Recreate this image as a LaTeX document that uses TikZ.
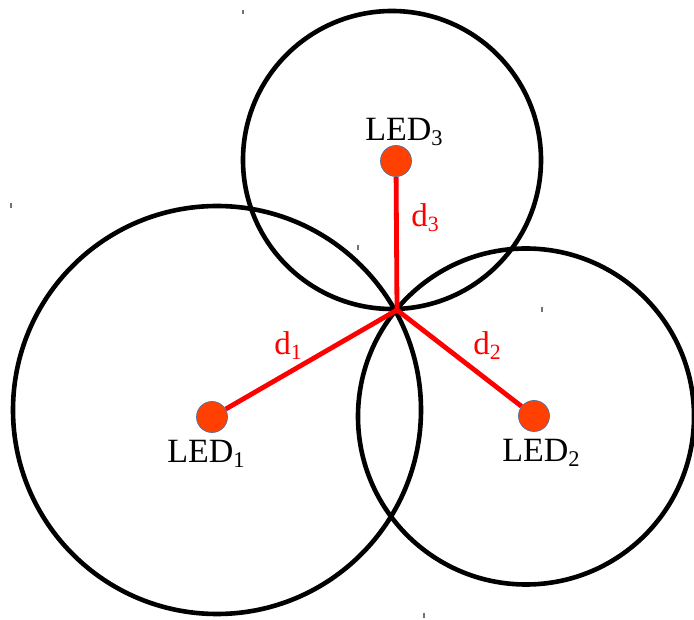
\documentclass[tikz,border=0pt]{standalone}
\usepackage{fontspec}
\setmainfont{Liberation Serif}
\usetikzlibrary{positioning}
\definecolor{ledred}{RGB}{255,64,0}
\definecolor{ledrim}{RGB}{80,110,160}
\newcommand{\lowsub}[1]{\raisebox{-0.3ex}{\scalebox{0.66}{#1}}}
\tikzset{
  rangecircle/.style={draw=black,line width=4.6pt},
  led/.style={circle,fill=ledred,draw=ledrim,line width=0.7pt,minimum size=31pt,inner sep=0pt},
  dist/.style={red,line width=4.8pt},
  lab/.style={anchor=base,font=\fontsize{34}{38}\selectfont},
  dlab/.style={anchor=base,text=red,font=\fontsize{33}{37}\selectfont},
  speck/.style={black!55,line width=1.5pt},
}
\begin{document}
\begin{tikzpicture}[x=1pt,y=1pt]
  \path[use as bounding box] (0,0) rectangle (694,619);

  % range circles
  \draw[rangecircle] (217,209) circle (204);
  \draw[rangecircle] (526,202.5) circle (168);
  \draw[rangecircle] (392,459) circle (149);

  % stray marks
  \draw[speck] (243,609)--(243,605);
  \draw[speck] (11,416)--(11,411);
  \draw[speck] (358,374)--(358,369);
  \draw[speck] (542,312)--(542,307);
  \draw[speck] (424,6)--(424,1);

  \coordinate (X) at (397,309);
  \node[led] (led1) at (212,202) {};
  \node[led] (led2) at (534,203) {};
  \node[led] (led3) at (396,458) {};
  \draw[dist] (X)--(led1);
  \draw[dist] (X)--(led2);
  \draw[dist] (X)--(led3);

  \node[lab] (l1) at (206,156) {LED\lowsub{1}};
  \node[lab] (l2) at (541,157) {LED\lowsub{2}};
  \node[lab] (l3) at (404,478) {LED\lowsub{3}};

  \node[dlab] (d1) at (288,264) {d\lowsub{1}};
  \node[dlab] (d2) at (487,264) {d\lowsub{2}};
  \node[dlab] (d3) at (425,392) {d\lowsub{3}};
\end{tikzpicture}
\end{document}
